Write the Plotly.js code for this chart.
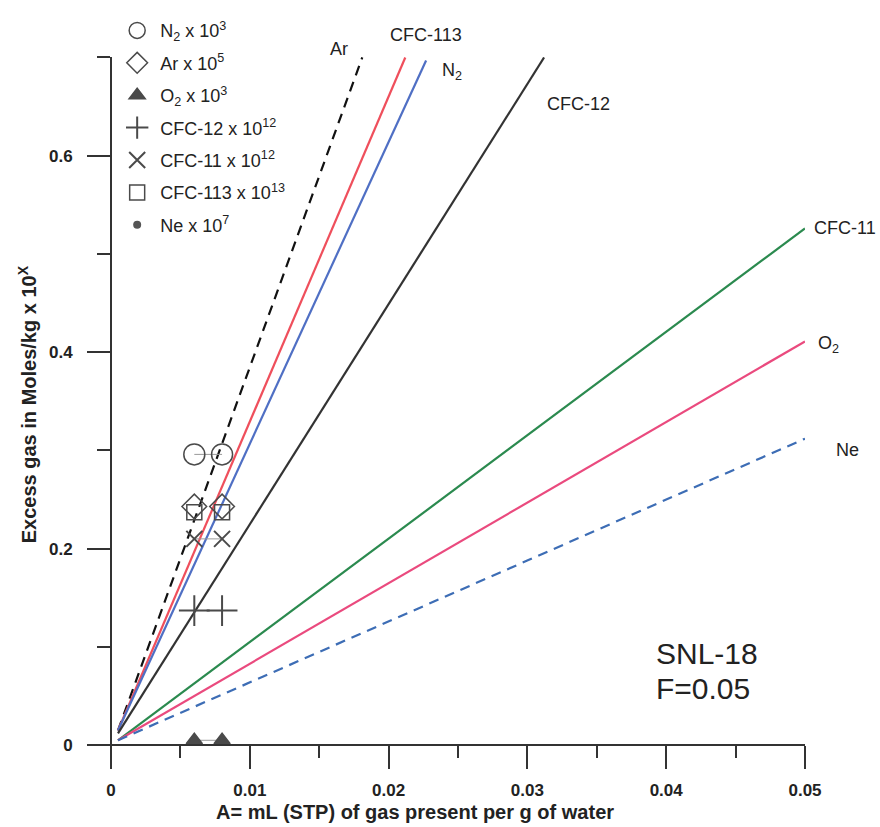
<!DOCTYPE html>
<html>
<head>
<meta charset="utf-8">
<script src="https://cdn.plot.ly/plotly-3.0.1.min.js"></script>
<style>html,body{margin:0;padding:0;background:#fff;}#chart{width:880px;height:827px;}</style>
</head>
<body>
<div id="chart"></div>
<script>
// ---- Fitted lines (start/end) ----
const arLineX = [0.0005, 0.0181];   const arLineY = [0.015, 0.700];
const cfc113LineX = [0.0005, 0.0212]; const cfc113LineY = [0.015, 0.700];
const n2LineX = [0.0005, 0.0227];   const n2LineY = [0.015, 0.697];
const cfc12LineX = [0.0005, 0.0312]; const cfc12LineY = [0.012, 0.700];
const cfc11LineX = [0.0005, 0.0500]; const cfc11LineY = [0.005, 0.526];
const o2LineX = [0.0005, 0.0500];   const o2LineY = [0.005, 0.411];
const neLineX = [0.0005, 0.0500];   const neLineY = [0.005, 0.312];

// ---- Measured pairs ----
const pairX = [0.006, 0.008];
const n2Pts = [0.296, 0.296];
const arPts = [0.243, 0.243];
const o2Pts = [0.005, 0.005];
const cfc12Pts = [0.137, 0.137];
const cfc11Pts = [0.210, 0.210];
const cfc113Pts = [0.237, 0.237];

// ---- Text ----
const legendNames = ['N<sub>2</sub> x 10<sup>3</sup>', 'Ar x 10<sup>5</sup>', 'O<sub>2</sub> x 10<sup>3</sup>',
  'CFC-12 x 10<sup>12</sup>', 'CFC-11 x 10<sup>12</sup>', 'CFC-113 x 10<sup>13</sup>', 'Ne x 10<sup>7</sup>'];
const lineLabels = ['Ar', 'CFC-113', 'N<sub>2</sub>', 'CFC-12', 'CFC-11', 'O<sub>2</sub>', 'Ne'];
const lineLabelX = [0.0164, 0.0227, 0.0246, 0.0337, 0.0505, 0.0508, 0.0521];
const lineLabelY = [0.709, 0.723, 0.686, 0.653, 0.526, 0.408, 0.300];
const lineLabelAnchor = ['center','center','center','center','left','left','left'];
const sampleLines = ['SNL-18', 'F=0.05'];
const sampleX = 0.0391;
const sampleY = [0.093, 0.0575];
const xTitle = 'A= mL (STP) of gas present per g of water';
const yTitle = 'Excess gas in Moles/kg x 10<sup>X</sup>';

const xRange = [-0.00166, 0.05];
const yRange = [-0.0232, 0.7005];
const px = v => (v - xRange[0]) / (xRange[1] - xRange[0]);
const py = v => (v - yRange[0]) / (yRange[1] - yRange[0]);

const mk = '#4a4a4a';
function line(x, y, color, dash) {
  return {x: x, y: y, mode: 'lines', type: 'scatter', showlegend: false, hoverinfo: 'skip',
    line: {color: color, width: 2.2, dash: dash || 'solid'}};
}
function pairLine(y) {
  return {x: pairX, y: y, mode: 'lines', type: 'scatter', showlegend: false, hoverinfo: 'skip',
    line: {color: '#9a9a9a', width: 1}};
}
function pts(y, name, symbol, size, group, w) {
  return {x: pairX, y: y, mode: 'markers', type: 'scatter', name: name, legendgroup: group,
    cliponaxis: false,
    marker: {symbol: symbol, size: size, color: mk, line: {color: mk, width: w || 1.5}}};
}

const traces = [
  line(arLineX, arLineY, '#111111', '10px,7px'),
  line(cfc113LineX, cfc113LineY, '#ef4f5c'),
  line(n2LineX, n2LineY, '#4f6fc4'),
  line(cfc12LineX, cfc12LineY, '#333333'),
  line(cfc11LineX, cfc11LineY, '#2b8a4f'),
  line(o2LineX, o2LineY, '#ea4a7e'),
  line(neLineX, neLineY, '#3d6db5', '10px,7px'),
  pairLine(n2Pts), pairLine(cfc11Pts), pairLine(o2Pts), pairLine(cfc12Pts),
  pts(n2Pts, legendNames[0], 'circle-open', 21, 'a'),
  pts(arPts, legendNames[1], 'diamond-open', 19, 'b'),
  pts(o2Pts, legendNames[2], 'triangle-up', 14, 'c'),
  pts(cfc12Pts, legendNames[3], 'cross-thin-open', 22, 'd', 2),
  pts(cfc11Pts, legendNames[4], 'x-thin-open', 16, 'e', 2),
  pts(cfc113Pts, legendNames[5], 'square-open', 15, 'f'),
  {x: [null], y: [null], mode: 'markers', type: 'scatter', name: legendNames[6], legendgroup: 'g',
    marker: {symbol: 'circle', size: 8, color: '#555'}}
];

const txtFont = (s) => ({family: 'Liberation Sans, Arial, sans-serif', size: s, color: '#222'});
const annotations = lineLabels.map((t, i) => ({
  x: px(lineLabelX[i]), y: py(lineLabelY[i]), xref: 'paper', yref: 'paper', text: t, showarrow: false,
  xanchor: lineLabelAnchor[i], yanchor: 'middle', font: txtFont(18)
}));
sampleLines.forEach((t, i) => annotations.push({
  x: px(sampleX), y: py(sampleY[i]), xref: 'paper', yref: 'paper', text: t, showarrow: false,
  xanchor: 'left', yanchor: 'middle', font: txtFont(30)
}));
const titleFont = {family: 'Liberation Sans, Arial, sans-serif', size: 20, color: '#222', weight: 'bold'};
annotations.push({x: (214 - 88) / 717.5, y: -(812 - 768) / 717.2, xref: 'paper', yref: 'paper', text: xTitle,
  showarrow: false, xanchor: 'left', yanchor: 'middle', font: titleFont});
annotations.push({x: -0.085, y: (768 - 401) / 717.2, xref: 'paper', yref: 'paper', text: yTitle,
  showarrow: false, xanchor: 'center', yanchor: 'middle', textangle: -90, font: titleFont});

const tickFont = {family: 'Liberation Sans, Arial, sans-serif', size: 17, color: '#222', weight: 'bold'};
const layout = {
  width: 880, height: 827,
  margin: {l: 88, r: 74.5, t: 50.8, b: 59},
  paper_bgcolor: '#fff', plot_bgcolor: '#fff',
  showlegend: true,
  legend: {x: 0.0365, y: 1.063, xanchor: 'left', yanchor: 'top', bgcolor: 'rgba(0,0,0,0)',
    traceorder: 'grouped', tracegroupgap: 6, itemwidth: 36,
    font: txtFont(18)},
  xaxis: {range: xRange, anchor: 'free', position: py(0),
    showgrid: false, zeroline: false, showline: true, linecolor: '#333', linewidth: 2,
    ticks: 'outside', ticklen: 23, tickwidth: 2, tickcolor: '#333', dtick: 0.01, tick0: 0,
    minor: {dtick: 0.005, ticklen: 12, tickwidth: 2, tickcolor: '#333', ticks: 'outside', showgrid: false},
    ticklabelstandoff: 6, tickfont: tickFont},
  yaxis: {range: yRange, anchor: 'free', position: px(0),
    showgrid: false, zeroline: false, showline: true, linecolor: '#333', linewidth: 2,
    ticks: 'outside', ticklen: 23, tickwidth: 2, tickcolor: '#333', dtick: 0.2, tick0: 0,
    minor: {dtick: 0.1, ticklen: 13, tickwidth: 2, tickcolor: '#333', ticks: 'outside', showgrid: false},
    ticklabelstandoff: 11, tickfont: tickFont},
  annotations: annotations
};
Plotly.newPlot('chart', traces, layout, {displayModeBar: false, staticPlot: true});
</script>
</body>
</html>
